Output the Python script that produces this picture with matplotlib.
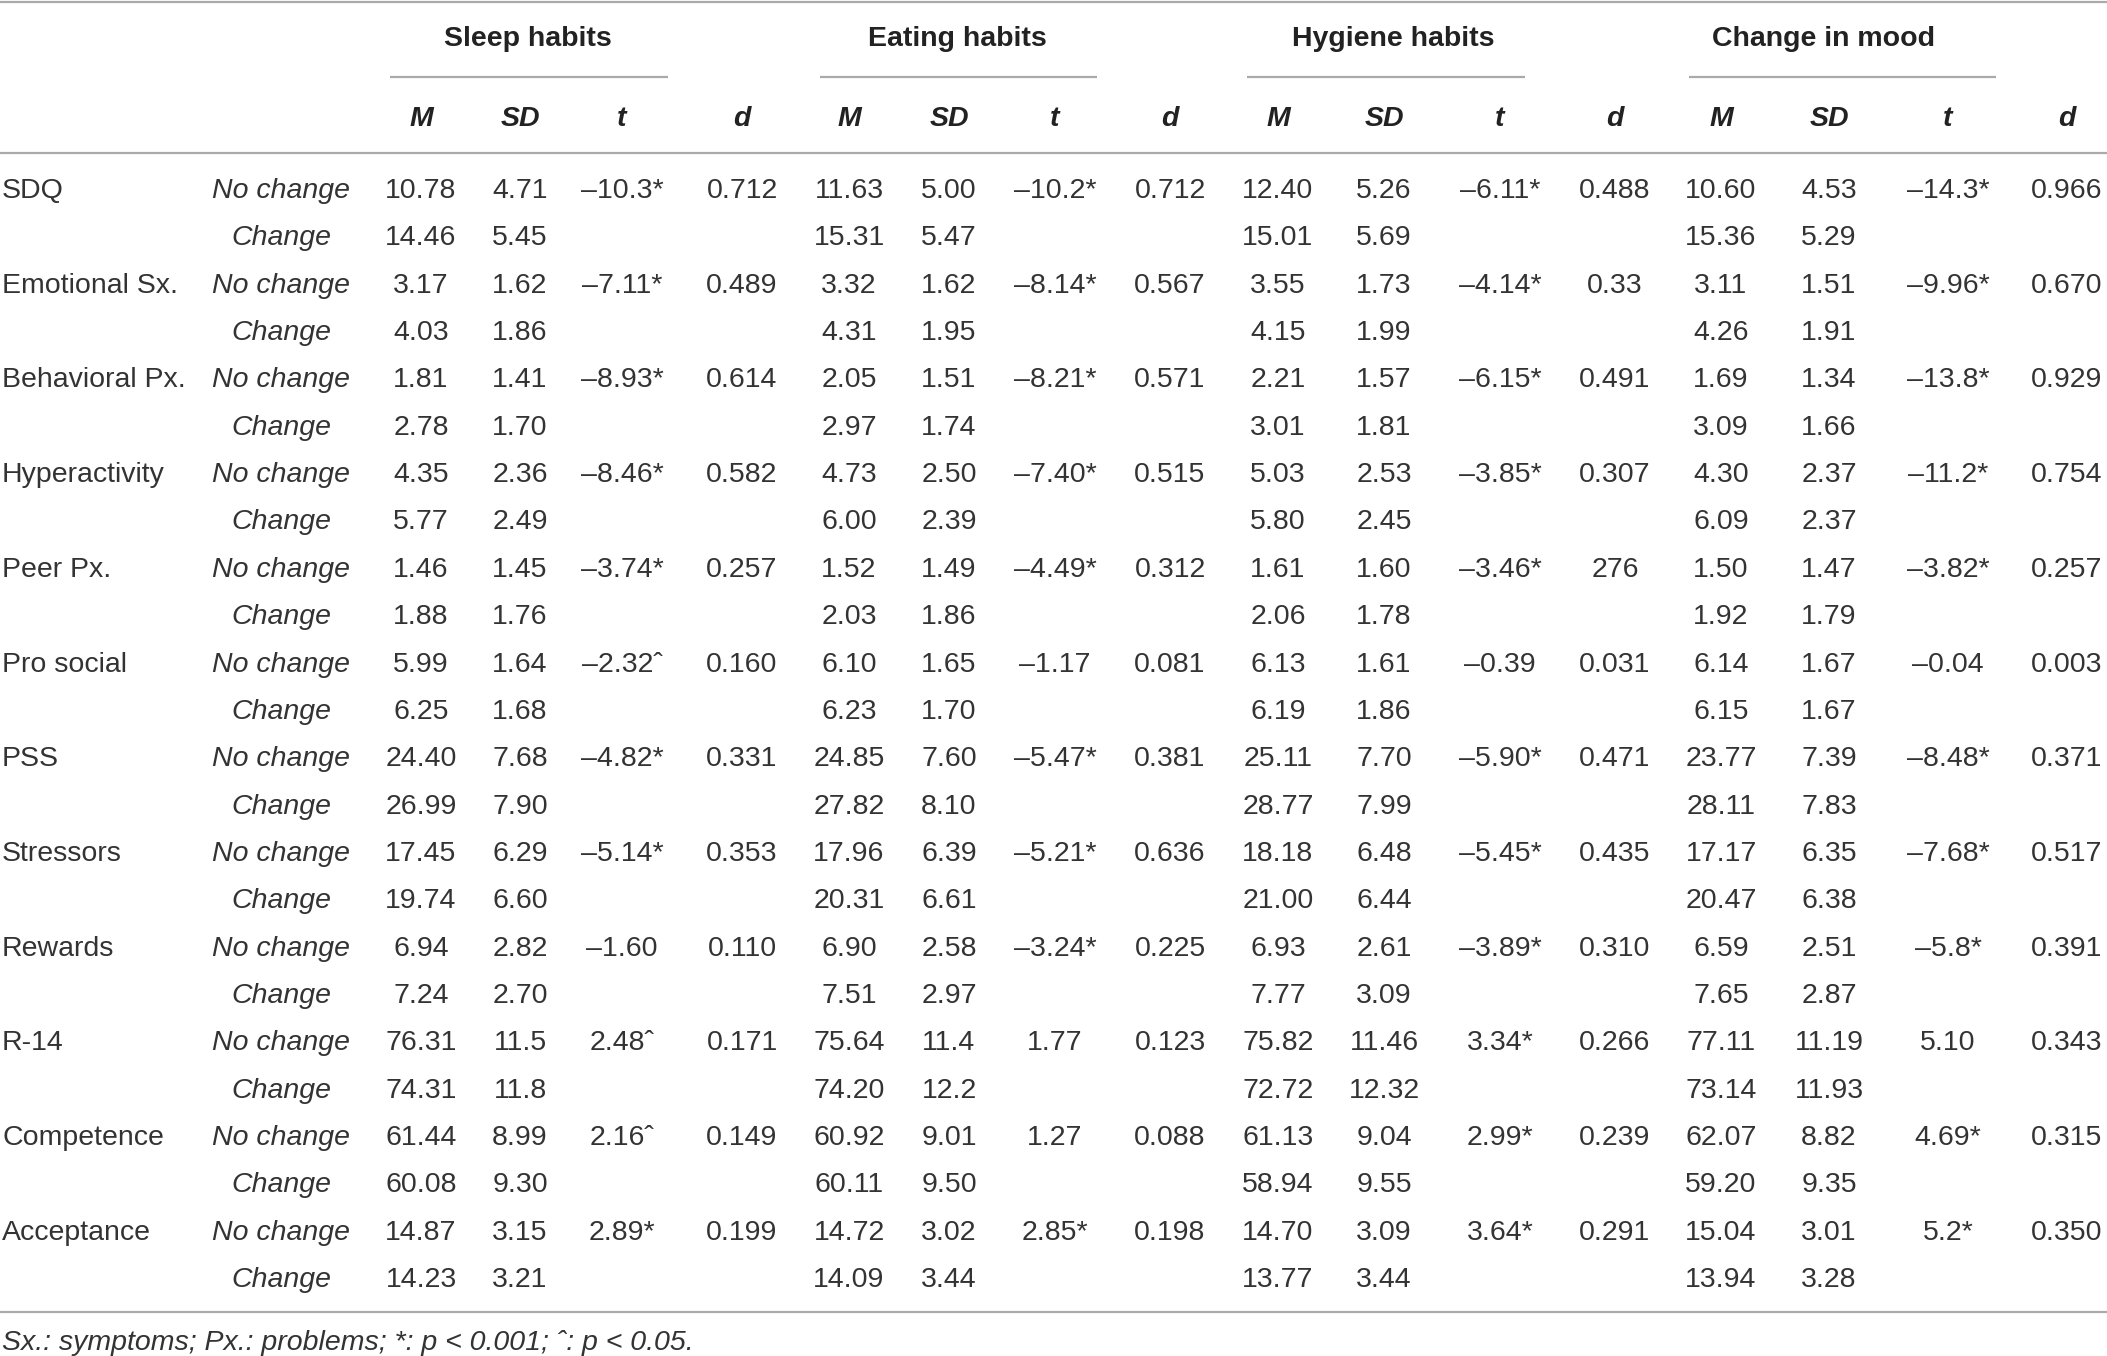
import matplotlib.pyplot as plt

# Table data (strings keep the original formatting)
measures = ['SDQ', 'Emotional Sx.', 'Behavioral Px.', 'Hyperactivity', 'Peer Px.', 'Pro social',
            'PSS', 'Stressors', 'Rewards', 'R-14', 'Competence', 'Acceptance']
conditions = ['No change', 'Change']
habits = ['Sleep habits', 'Eating habits', 'Hygiene habits', 'Change in mood']
stat_names = ['M', 'SD', 't', 'd']

sleep_nc_m = ['10.78', '3.17', '1.81', '4.35', '1.46', '5.99', '24.40', '17.45', '6.94', '76.31', '61.44', '14.87']
sleep_nc_sd = ['4.71', '1.62', '1.41', '2.36', '1.45', '1.64', '7.68', '6.29', '2.82', '11.5', '8.99', '3.15']
sleep_t = ['–10.3*', '–7.11*', '–8.93*', '–8.46*', '–3.74*', '–2.32ˆ', '–4.82*', '–5.14*', '–1.60', '2.48ˆ', '2.16ˆ', '2.89*']
sleep_d = ['0.712', '0.489', '0.614', '0.582', '0.257', '0.160', '0.331', '0.353', '0.110', '0.171', '0.149', '0.199']
sleep_c_m = ['14.46', '4.03', '2.78', '5.77', '1.88', '6.25', '26.99', '19.74', '7.24', '74.31', '60.08', '14.23']
sleep_c_sd = ['5.45', '1.86', '1.70', '2.49', '1.76', '1.68', '7.90', '6.60', '2.70', '11.8', '9.30', '3.21']

eat_nc_m = ['11.63', '3.32', '2.05', '4.73', '1.52', '6.10', '24.85', '17.96', '6.90', '75.64', '60.92', '14.72']
eat_nc_sd = ['5.00', '1.62', '1.51', '2.50', '1.49', '1.65', '7.60', '6.39', '2.58', '11.4', '9.01', '3.02']
eat_t = ['–10.2*', '–8.14*', '–8.21*', '–7.40*', '–4.49*', '–1.17', '–5.47*', '–5.21*', '–3.24*', '1.77', '1.27', '2.85*']
eat_d = ['0.712', '0.567', '0.571', '0.515', '0.312', '0.081', '0.381', '0.636', '0.225', '0.123', '0.088', '0.198']
eat_c_m = ['15.31', '4.31', '2.97', '6.00', '2.03', '6.23', '27.82', '20.31', '7.51', '74.20', '60.11', '14.09']
eat_c_sd = ['5.47', '1.95', '1.74', '2.39', '1.86', '1.70', '8.10', '6.61', '2.97', '12.2', '9.50', '3.44']

hyg_nc_m = ['12.40', '3.55', '2.21', '5.03', '1.61', '6.13', '25.11', '18.18', '6.93', '75.82', '61.13', '14.70']
hyg_nc_sd = ['5.26', '1.73', '1.57', '2.53', '1.60', '1.61', '7.70', '6.48', '2.61', '11.46', '9.04', '3.09']
hyg_t = ['–6.11*', '–4.14*', '–6.15*', '–3.85*', '–3.46*', '–0.39', '–5.90*', '–5.45*', '–3.89*', '3.34*', '2.99*', '3.64*']
hyg_d = ['0.488', '0.33', '0.491', '0.307', '276', '0.031', '0.471', '0.435', '0.310', '0.266', '0.239', '0.291']
hyg_c_m = ['15.01', '4.15', '3.01', '5.80', '2.06', '6.19', '28.77', '21.00', '7.77', '72.72', '58.94', '13.77']
hyg_c_sd = ['5.69', '1.99', '1.81', '2.45', '1.78', '1.86', '7.99', '6.44', '3.09', '12.32', '9.55', '3.44']

mood_nc_m = ['10.60', '3.11', '1.69', '4.30', '1.50', '6.14', '23.77', '17.17', '6.59', '77.11', '62.07', '15.04']
mood_nc_sd = ['4.53', '1.51', '1.34', '2.37', '1.47', '1.67', '7.39', '6.35', '2.51', '11.19', '8.82', '3.01']
mood_t = ['–14.3*', '–9.96*', '–13.8*', '–11.2*', '–3.82*', '–0.04', '–8.48*', '–7.68*', '–5.8*', '5.10', '4.69*', '5.2*']
mood_d = ['0.966', '0.670', '0.929', '0.754', '0.257', '0.003', '0.371', '0.517', '0.391', '0.343', '0.315', '0.350']
mood_c_m = ['15.36', '4.26', '3.09', '6.09', '1.92', '6.15', '28.11', '20.47', '7.65', '73.14', '59.20', '13.94']
mood_c_sd = ['5.29', '1.91', '1.66', '2.37', '1.79', '1.67', '7.83', '6.38', '2.87', '11.93', '9.35', '3.28']

footnote = 'Sx.: symptoms; Px.: problems; *: p < 0.001; ˆ: p < 0.05.'

blocks = [
    (sleep_nc_m, sleep_nc_sd, sleep_t, sleep_d, sleep_c_m, sleep_c_sd),
    (eat_nc_m, eat_nc_sd, eat_t, eat_d, eat_c_m, eat_c_sd),
    (hyg_nc_m, hyg_nc_sd, hyg_t, hyg_d, hyg_c_m, hyg_c_sd),
    (mood_nc_m, mood_nc_sd, mood_t, mood_d, mood_c_m, mood_c_sd),
]

# layout (pixel coordinates)
W, H = 2107, 1356
col_x = [[421, 520, 622, 742], [849, 949, 1055, 1170],
         [1278, 1384, 1500, 1615], [1721, 1829, 1948, 2067]]
header_x = [528, 957, 1393, 1824]
underline = [(390, 668), (820, 1097), (1247, 1525), (1689, 1996)]
cond_x = 281
row0, row_h = 191, 47.35
fs = 20.5
txt = '#333333'
rule = '#aaaaaa'

plt.rcParams['font.family'] = ['Liberation Sans', 'DejaVu Sans']

fig = plt.figure(figsize=(W / 100, H / 100), dpi=100)
ax = fig.add_axes([0, 0, 1, 1])
ax.set_xlim(0, W)
ax.set_ylim(H, 0)
ax.axis('off')

# rules
for y in [1.5, 153, 1312]:
    ax.plot([0, W], [y, y], color=rule, lw=1.6, clip_on=False, solid_capstyle='butt')

# group headers, underlines and stat headers
for g, name in enumerate(habits):
    x0, x1 = underline[g]
    ax.plot([x0, x1], [77, 77], color=rule, lw=1.6, solid_capstyle='butt')
    ax.text(header_x[g], 39, name, ha='center', va='center', fontsize=fs,
            fontweight='bold', color='#222222')
    for k, s in enumerate(stat_names):
        ax.text(col_x[g][k], 119, s, ha='center', va='center', fontsize=fs,
                fontweight='bold', style='italic', color='#222222')

# body
for i, meas in enumerate(measures):
    y_nc = row0 + (2 * i) * row_h
    y_c = row0 + (2 * i + 1) * row_h
    ax.text(2, y_nc, meas, ha='left', va='center', fontsize=fs, color=txt)
    ax.text(cond_x, y_nc, conditions[0], ha='center', va='center', fontsize=fs,
            style='italic', color=txt)
    ax.text(cond_x, y_c, conditions[1], ha='center', va='center', fontsize=fs,
            style='italic', color=txt)
    for g, (nc_m, nc_sd, t, d, c_m, c_sd) in enumerate(blocks):
        xs = col_x[g]
        ax.text(xs[0], y_nc, nc_m[i], ha='center', va='center', fontsize=fs, color=txt)
        ax.text(xs[1], y_nc, nc_sd[i], ha='center', va='center', fontsize=fs, color=txt)
        ax.text(xs[2], y_nc, t[i], ha='center', va='center', fontsize=fs, color=txt)
        ax.text(xs[3], y_nc, d[i], ha='center', va='center', fontsize=fs, color=txt)
        ax.text(xs[0], y_c, c_m[i], ha='center', va='center', fontsize=fs, color=txt)
        ax.text(xs[1], y_c, c_sd[i], ha='center', va='center', fontsize=fs, color=txt)

ax.text(2, 1343, footnote, ha='left', va='center', fontsize=fs, style='italic', color=txt)

fig.savefig('out.png', dpi=100)
